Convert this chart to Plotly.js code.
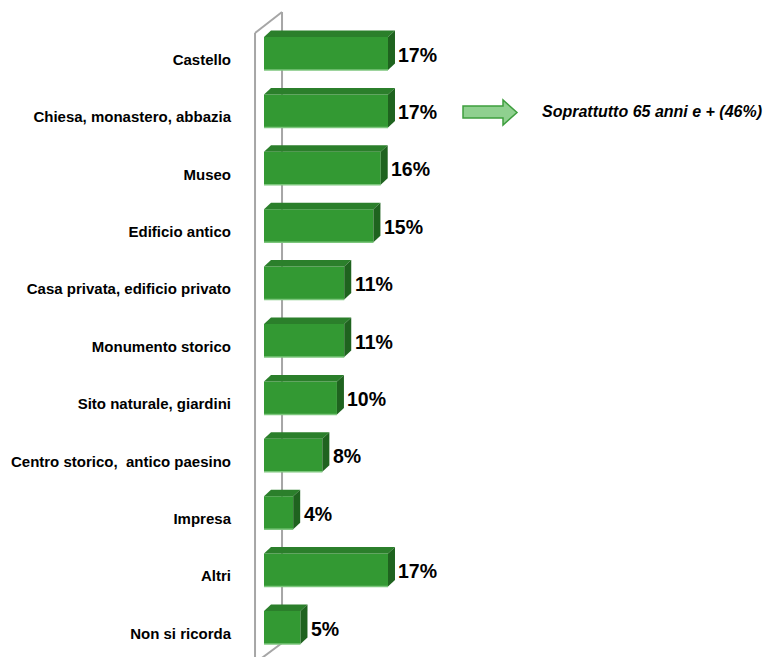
<!DOCTYPE html>
<html>
<head>
<meta charset="utf-8">
<script src="https://cdn.plot.ly/plotly-3.0.1.min.js"></script>
<style>html,body{margin:0;padding:0;background:#fff;}#chart{width:765px;height:657px;}</style>
</head>
<body>
<div id="chart"></div>
<script>
const categories = ['Castello','Chiesa, monastero, abbazia','Museo','Edificio antico','Casa privata, edificio privato','Monumento storico','Sito naturale, giardini','Centro storico,  antico paesino','Impresa','Altri','Non si ricorda'];
const values = [17,17,16,15,11,11,10,8,4,17,5];
const valueLabels = values.map(v => v + '%');
const noteText = 'Soprattutto 65 anni e + (46%)';
const noteRow = 1;

const positions = categories.map((c, i) => i);
const FONT = 'Liberation Sans, Arial, sans-serif';
const H = 0.575;   // bar thickness (category units)
const DX = 0.96;   // 3D depth in x (value units)
const DY = 0.113;  // 3D depth in y (category units)

const L = 246, T = 10, W = 765, HT = 657;
const PW = W - L, PH = HT - T;
const px2x = p => (p - L) / PW;
const py2y = p => 1 - (p - T) / PH;

const shapes = [];
const wallLine = {color: '#A6A6A6', width: 2};
// wall (decorative)
shapes.push({type:'line', layer:'below', xref:'x', yref:'y', x0:-1.23, x1:-1.23, y0:-0.357, y1:10.7, line:wallLine});
shapes.push({type:'line', layer:'below', xref:'x', yref:'y', x0:2.47, x1:2.47, y0:-0.723, y1:10.27, line:wallLine});
shapes.push({type:'line', layer:'below', xref:'x', yref:'y', x0:-1.23, x1:2.47, y0:-0.357, y1:-0.723, line:wallLine});
shapes.push({type:'line', layer:'below', xref:'x', yref:'y', x0:2.47, x1:-1.23, y0:10.27, y1:10.62, line:wallLine});

values.forEach((v, i) => {
  const yt = i - H/2, yb = i + H/2;
  shapes.push({type:'path', layer:'above', xref:'x', yref:'y',
    path:`M 0,${yt} L ${v},${yt} L ${v+DX},${yt-DY} L ${DX},${yt-DY} Z`,
    fillcolor:'#2B7F2B', line:{width:0}});
  shapes.push({type:'path', layer:'above', xref:'x', yref:'y',
    path:`M ${v},${yt} L ${v+DX},${yt-DY} L ${v+DX},${yb-DY} L ${v},${yb} Z`,
    fillcolor:'#1F631F', line:{width:0}});
  shapes.push({type:'line', layer:'above', xref:'x', yref:'y', x0:0, x1:v, y0:yb, y1:yb,
    line:{color:'#7CC67C', width:1.5}});
});

// note arrow (decorative, paper coordinates)
const ap = [[463,106],[503,106],[503,100],[517,112.5],[503,125],[503,118],[463,118]];
shapes.push({type:'path', xref:'paper', yref:'paper',
  path: 'M ' + ap.map(p => px2x(p[0]) + ',' + py2y(p[1])).join(' L ') + ' Z',
  fillcolor:'#8FD08F', line:{color:'#3E9E3E', width:1.5}});

const annotations = values.map((v, i) => ({
  x: v + DX + 0.2, y: i, xref:'x', yref:'y', xanchor:'left', yanchor:'middle',
  text: '<b>' + valueLabels[i] + '</b>', showarrow:false, yshift:-1,
  font:{family:FONT, size:19.5, color:'#000'}
}));
annotations.push({x: px2x(540), y: noteRow, xref:'paper', yref:'y', xanchor:'left', yanchor:'middle',
  text:'<b><i>' + noteText + '</i></b>', showarrow:false, yshift:-1,
  font:{family:FONT, size:16, color:'#000'}});

const trace = {
  type:'bar', orientation:'h', x: values, y: positions, width: H,
  marker:{color:'#339933', line:{width:0}}, hoverinfo:'none'
};

const layout = {
  width: W, height: HT,
  margin:{l:L, r:0, t:T, b:0},
  paper_bgcolor:'#fff', plot_bgcolor:'rgba(0,0,0,0)',
  showlegend:false,
  xaxis:{range:[-2.468, -2.468 + PW/7.294], visible:false, fixedrange:true},
  yaxis:{range:[10.514, -0.758], tickvals: positions, ticktext: categories,
    showgrid:false, zeroline:false, showline:false, ticks:'', ticklabelstandoff:14,
    ticklabelshift:-6,
    tickfont:{family:FONT, size:15, color:'#000', weight:'bold'}},
  shapes, annotations
};
Plotly.newPlot('chart', [trace], layout, {displayModeBar:false, staticPlot:true});
</script>
</body>
</html>
